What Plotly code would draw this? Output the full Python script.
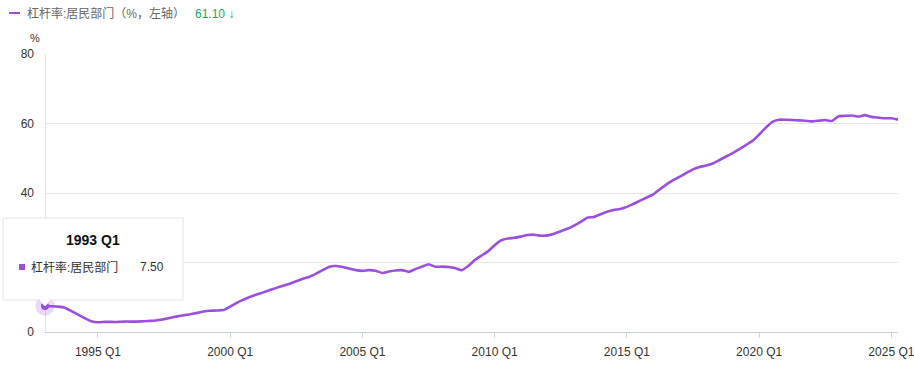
import plotly.graph_objects as go

# ---- data ----
years = list(range(1993, 2026))
quarters = [f"{y} Q{q}" for y in years for q in range(1, 5)][:130]  # 1993 Q1 .. 2025 Q2

values = [
    7.5, 7.4, 7.3, 7.0,        # 1993
    6.0, 5.0, 4.0, 3.1,        # 1994
    2.8, 2.9, 2.9, 2.9,        # 1995
    3.0, 3.0, 3.0, 3.1,        # 1996
    3.2, 3.4, 3.7, 4.1,        # 1997
    4.5, 4.8, 5.1, 5.5,        # 1998
    5.9, 6.1, 6.2, 6.3,        # 1999
    7.3, 8.4, 9.3, 10.1,       # 2000
    10.8, 11.4, 12.1, 12.7,    # 2001
    13.3, 13.9, 14.6, 15.3,    # 2002
    15.9, 16.8, 17.8, 18.8,    # 2003
    19.0, 18.7, 18.3, 17.8,    # 2004
    17.6, 17.8, 17.6, 17.0,    # 2005
    17.4, 17.7, 17.8, 17.3,    # 2006
    18.1, 18.8, 19.5, 18.8,    # 2007
    18.8, 18.7, 18.4, 17.8,    # 2008
    19.0, 20.7, 22.0, 23.2,    # 2009
    25.0, 26.4, 26.9, 27.1,    # 2010
    27.5, 27.9, 28.0, 27.7,    # 2011
    27.8, 28.3, 29.0, 29.7,    # 2012
    30.6, 31.7, 32.9, 33.1,    # 2013
    33.9, 34.6, 35.1, 35.4,    # 2014
    36.0, 36.9, 37.8, 38.7,    # 2015
    39.6, 41.1, 42.5, 43.7,    # 2016
    44.7, 45.8, 46.8, 47.5,    # 2017
    47.9, 48.5, 49.5, 50.5,    # 2018
    51.5, 52.6, 53.8, 55.0,    # 2019
    56.8, 58.8, 60.5, 61.1,    # 2020
    61.1, 61.0, 60.9, 60.8,    # 2021
    60.6, 60.8, 61.0, 60.7,    # 2022
    62.1, 62.2, 62.3, 62.0,    # 2023
    62.4, 61.9, 61.7, 61.5,    # 2024
    61.5, 61.1,                # 2025
]

tick_labels = ["1995 Q1", "2000 Q1", "2005 Q1", "2010 Q1", "2015 Q1", "2020 Q1", "2025 Q1"]
y_ticks = [0, 20, 40, 60, 80]

series_name = "杠杆率:居民部门"
legend_label = "杠杆率:居民部门（%，左轴）"
hover_idx = 0

# ---- style ----
PURPLE = "#9b4fde"
GREEN = "#19a85a"
FONT = "Liberation Sans, Arial, Noto Sans CJK SC, sans-serif"
W, H = 914, 371
L, R, T, B = 45, 16, 54, 39
PW, PH = W - L - R, H - T - B


def px(x):
    return (x - L) / PW


def py(y):
    return (H - B - y) / PH


fig = go.Figure()

fig.add_trace(go.Scatter(
    x=quarters, y=values, mode="lines", name=series_name,
    line=dict(color=PURPLE, width=2.6, shape="spline", smoothing=0.3),
    hoverinfo="skip", showlegend=False,
))

# hover halo + point
fig.add_trace(go.Scatter(
    x=[quarters[hover_idx]], y=[values[hover_idx]], mode="markers",
    marker=dict(size=19, color="rgba(155,79,222,0.22)"),
    hoverinfo="skip", showlegend=False, cliponaxis=False,
))
fig.add_trace(go.Scatter(
    x=[quarters[hover_idx]], y=[values[hover_idx]], mode="markers",
    marker=dict(size=8, color=PURPLE),
    hoverinfo="skip", showlegend=False, cliponaxis=False,
))

shapes = []
# crosshair
shapes.append(dict(type="line", xref="x", yref="paper",
                   x0=quarters[hover_idx], x1=quarters[hover_idx], y0=0, y1=1,
                   line=dict(color="#cccccc", width=1), layer="below"))
# legend line
shapes.append(dict(type="line", xref="paper", yref="paper",
                   x0=px(9), x1=px(20), y0=py(13), y1=py(13),
                   line=dict(color=PURPLE, width=2)))
# tooltip box
shapes.append(dict(type="rect", xref="paper", yref="paper",
                   x0=px(3), x1=px(183), y0=py(300), y1=py(218),
                   fillcolor="rgba(255,255,255,0.95)",
                   line=dict(color="#e3e3e3", width=1), layer="above"))
# tooltip arrow
shapes.append(dict(type="path", xref="paper", yref="paper",
                   path=f"M {px(39)} {py(300)} L {px(45)} {py(306)} L {px(51)} {py(300)} Z",
                   fillcolor="white", line=dict(color="#e3e3e3", width=1), layer="above"))
shapes.append(dict(type="line", xref="paper", yref="paper",
                   x0=px(40), x1=px(50), y0=py(300), y1=py(300),
                   line=dict(color="white", width=2), layer="above"))
# tooltip marker square
shapes.append(dict(type="rect", xref="paper", yref="paper",
                   x0=px(19), x1=px(25), y0=py(270), y1=py(264),
                   fillcolor=PURPLE, line=dict(width=0), layer="above"))

legend_text = (f"{legend_label}&nbsp;&nbsp;&nbsp;"
               f"<span style='color:{GREEN}'>{values[-1]:.2f} <b>↓</b></span>")

annotations = [
    dict(text=legend_text, x=px(25), y=py(13), xref="paper", yref="paper",
         xanchor="left", yanchor="middle", showarrow=False,
         font=dict(size=12, color="#666666", family=FONT)),
    dict(text="%", x=px(35), y=py(38), xref="paper", yref="paper",
         xanchor="center", yanchor="middle", showarrow=False,
         font=dict(size=11, color="#333333", family=FONT)),
    dict(text=f"<b>{quarters[hover_idx]}</b>", x=px(93), y=py(240), xref="paper", yref="paper",
         xanchor="center", yanchor="middle", showarrow=False,
         font=dict(size=14, color="#111111", family=FONT)),
    dict(text=series_name, x=px(29), y=py(267), xref="paper", yref="paper",
         xanchor="left", yanchor="middle", showarrow=False,
         font=dict(size=12, color="#333333", family=FONT)),
    dict(text=f"{values[hover_idx]:.2f}", x=px(166), y=py(267), xref="paper", yref="paper",
         xanchor="right", yanchor="middle", showarrow=False,
         font=dict(size=12, color="#333333", family=FONT)),
]

fig.update_layout(
    width=W, height=H,
    margin=dict(l=L, r=R, t=T, b=B),
    paper_bgcolor="white", plot_bgcolor="white",
    font=dict(family=FONT, size=12, color="#333333"),
    showlegend=False,
    shapes=shapes, annotations=annotations,
    xaxis=dict(
        type="category", categoryorder="array", categoryarray=quarters,
        range=[0, len(quarters) - 1], automargin=False,
        tickmode="array", tickvals=tick_labels, ticktext=tick_labels,
        ticks="outside", ticklen=5, tickcolor="#ccd6eb", tickwidth=1,
        showline=True, linecolor="#c8ccd6", linewidth=1,
        showgrid=False, zeroline=False,
        tickfont=dict(size=12, color="#333333", family=FONT),
        ticklabelstandoff=4,
    ),
    yaxis=dict(
        range=[0, 80], tickmode="array", tickvals=y_ticks, automargin=False,
        showgrid=True, gridcolor="#e6e6e6", gridwidth=1,
        zeroline=False, showline=False, ticks="",
        tickfont=dict(size=12, color="#333333", family=FONT),
        ticklabelstandoff=10,
    ),
)

fig.write_html(
    "out.html",
    config={"displayModeBar": False},
    post_script="document.body.style.margin='0';document.body.style.overflow='hidden';",
)
